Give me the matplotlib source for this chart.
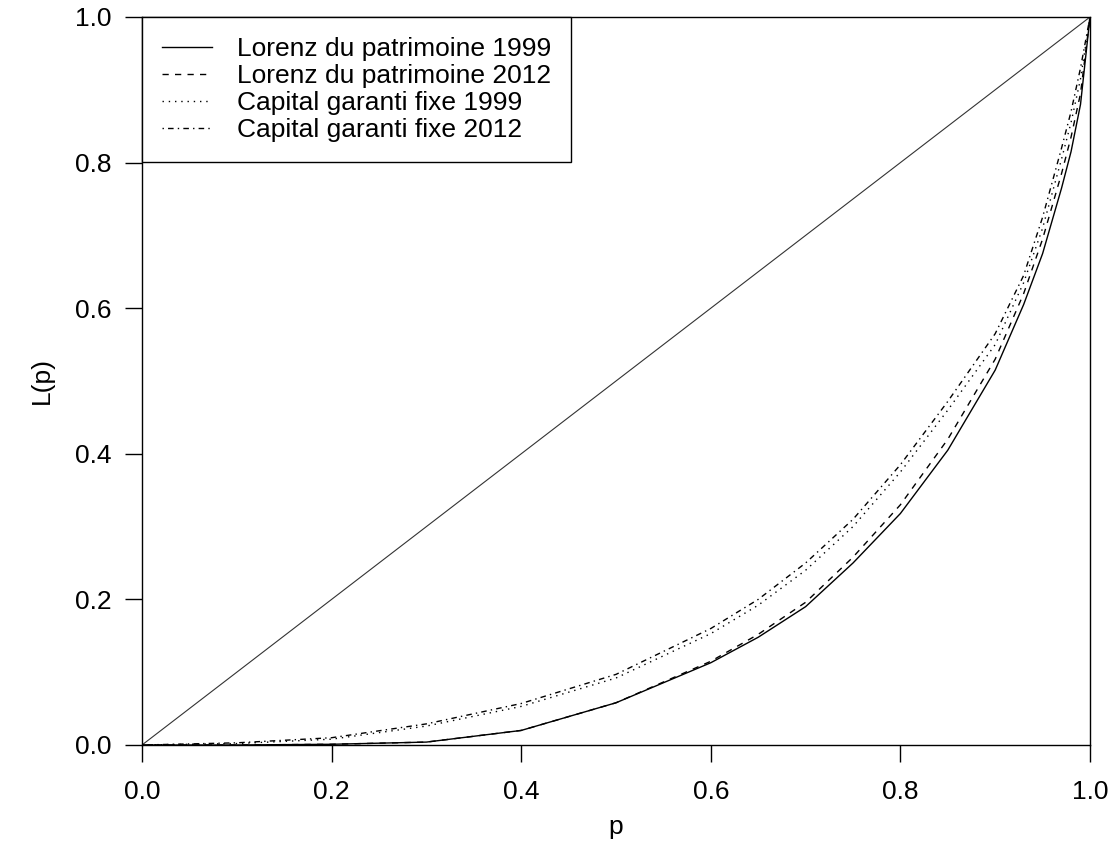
import matplotlib
matplotlib.use("Agg")
import matplotlib.pyplot as plt
import numpy as np

plt.rcParams['font.family'] = ['Liberation Sans', 'DejaVu Sans']

# population share
p = [0.0, 0.1, 0.2, 0.3, 0.4, 0.5, 0.6, 0.65, 0.7, 0.75, 0.8, 0.85,
     0.9, 0.93, 0.95, 0.97, 0.98, 0.99, 1.0]

# cumulative wealth share
lorenz_1999 = [0.0, 0.0, 0.001, 0.004, 0.020, 0.058, 0.113, 0.148, 0.190, 0.250,
               0.318, 0.405, 0.515, 0.605, 0.675, 0.765, 0.815, 0.880, 1.0]
lorenz_2012 = [0.0, 0.0, 0.001, 0.004, 0.020, 0.058, 0.115, 0.152, 0.196, 0.258,
               0.330, 0.420, 0.530, 0.620, 0.695, 0.785, 0.835, 0.895, 1.0]
capital_1999 = [0.0, 0.002, 0.008, 0.026, 0.053, 0.092, 0.153, 0.192, 0.240, 0.300,
                0.375, 0.460, 0.550, 0.635, 0.710, 0.805, 0.855, 0.915, 1.0]
capital_2012 = [0.0, 0.003, 0.010, 0.029, 0.057, 0.097, 0.160, 0.200, 0.250, 0.310,
                0.385, 0.472, 0.565, 0.645, 0.725, 0.820, 0.870, 0.930, 1.0]

labels = ["Lorenz du patrimoine 1999", "Lorenz du patrimoine 2012",
          "Capital garanti fixe 1999", "Capital garanti fixe 2012"]

fig = plt.figure(figsize=(11.11, 8.64), dpi=100)
ax = fig.add_axes([142 / 1111, 1 - 745 / 864, 948 / 1111, 728 / 864])

ax.plot([0, 1], [0, 1], color="#333333", lw=0.8)
ax.plot(p, lorenz_1999, color="black", lw=1.0, label=labels[0])
ax.plot(p, lorenz_2012, color="black", lw=1.0, dashes=(4.5, 4.5), label=labels[1])
ax.plot(p, capital_1999, color="black", lw=1.0, dashes=(1, 3.5), label=labels[2])
ax.plot(p, capital_2012, color="black", lw=1.0, dashes=(1, 3, 4, 3), label=labels[3])

ax.set_xlim(0, 1)
ax.set_ylim(0, 1)
ticks = np.arange(0, 1.01, 0.2)
ax.set_xticks(ticks)
ax.set_yticks(ticks)
ax.set_xticklabels(["%.1f" % t for t in ticks])
ax.set_yticklabels(["%.1f" % t for t in ticks])
ax.tick_params(direction="out", length=12, width=1.0, labelsize=19, pad=10)
ax.tick_params(axis="x", pad=13)
for s in ax.spines.values():
    s.set_linewidth(1.0)

ax.set_xlabel("p", fontsize=19, labelpad=8)
ax.set_ylabel("L(p)", fontsize=19, labelpad=15)

leg = ax.legend(loc="upper left", borderaxespad=0, fontsize=19, fancybox=False,
                edgecolor="black", framealpha=1, handlelength=1.9,
                handletextpad=0.95, labelspacing=0.12, borderpad=0.75)
leg.get_frame().set_linewidth(1.0)

fig.savefig("out.png", dpi=100)
